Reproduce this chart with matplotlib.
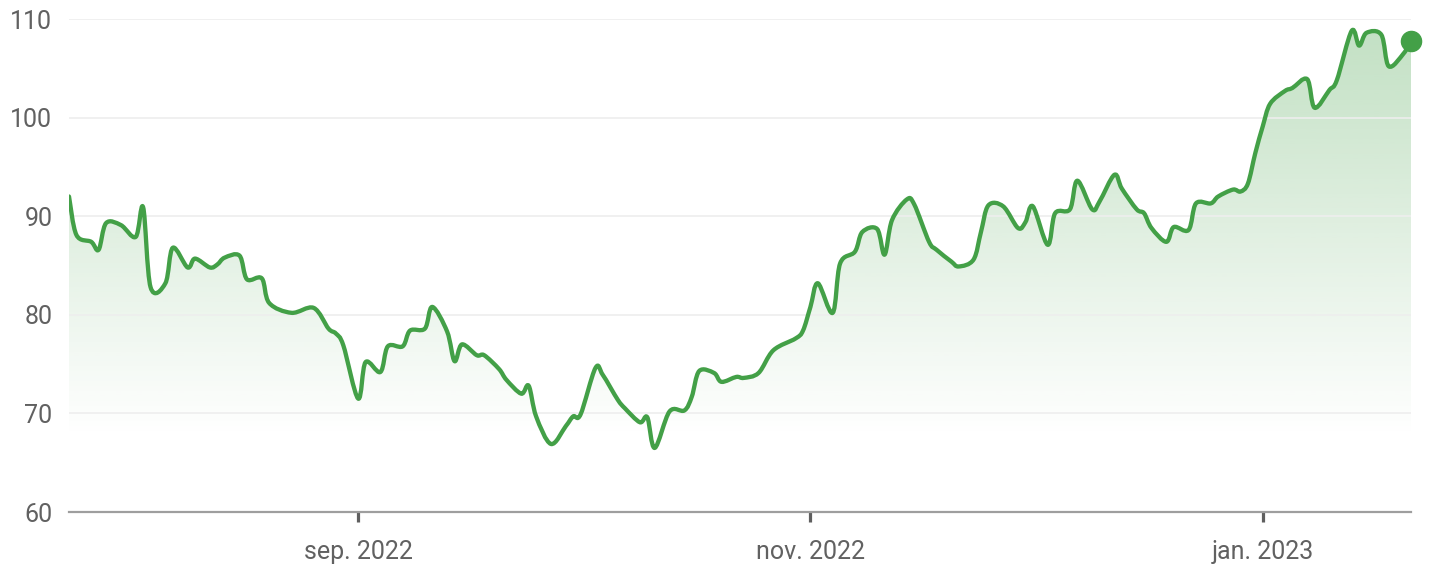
import numpy as np
import pandas as pd
import matplotlib
matplotlib.use("Agg")
import matplotlib.pyplot as plt
import matplotlib.dates as mdates
from matplotlib.colors import to_rgb
from matplotlib.path import Path
from matplotlib.patches import PathPatch

plt.rcParams['font.family'] = ['Roboto', 'DejaVu Sans']

# price series
dates = pd.to_datetime([
    "2022-07-24", "2022-07-25", "2022-07-27", "2022-07-28", "2022-07-29", "2022-07-31",
    "2022-08-02", "2022-08-03", "2022-08-04", "2022-08-06", "2022-08-07", "2022-08-09",
    "2022-08-10", "2022-08-12", "2022-08-13", "2022-08-14", "2022-08-16", "2022-08-17",
    "2022-08-19", "2022-08-20", "2022-08-23", "2022-08-26", "2022-08-28", "2022-08-29",
    "2022-08-30", "2022-09-01", "2022-09-02", "2022-09-04", "2022-09-05", "2022-09-07",
    "2022-09-08", "2022-09-10", "2022-09-11", "2022-09-13", "2022-09-14", "2022-09-15",
    "2022-09-17", "2022-09-18", "2022-09-20", "2022-09-21", "2022-09-23", "2022-09-24",
    "2022-09-25", "2022-09-27", "2022-09-29", "2022-09-30", "2022-10-01", "2022-10-03",
    "2022-10-04", "2022-10-06", "2022-10-07", "2022-10-09", "2022-10-10", "2022-10-11",
    "2022-10-13", "2022-10-15", "2022-10-16", "2022-10-17", "2022-10-19", "2022-10-20",
    "2022-10-22", "2022-10-23", "2022-10-25", "2022-10-27", "2022-10-30", "2022-10-31",
    "2022-11-01", "2022-11-02", "2022-11-04", "2022-11-05", "2022-11-07", "2022-11-08",
    "2022-11-10", "2022-11-11", "2022-11-12", "2022-11-14", "2022-11-15", "2022-11-17",
    "2022-11-18", "2022-11-20", "2022-11-21", "2022-11-23", "2022-11-24", "2022-11-25",
    "2022-11-27", "2022-11-29", "2022-11-30", "2022-12-01", "2022-12-03", "2022-12-04",
    "2022-12-06", "2022-12-07", "2022-12-09", "2022-12-10", "2022-12-12", "2022-12-13",
    "2022-12-15", "2022-12-16", "2022-12-17", "2022-12-19", "2022-12-20", "2022-12-22",
    "2022-12-23", "2022-12-25", "2022-12-26", "2022-12-28", "2022-12-29", "2022-12-30",
    "2022-12-31", "2023-01-01", "2023-01-02", "2023-01-04", "2023-01-05", "2023-01-07",
    "2023-01-08", "2023-01-10", "2023-01-11", "2023-01-13", "2023-01-14", "2023-01-15",
    "2023-01-17", "2023-01-18", "2023-01-20", "2023-01-21",
])
prices = [
    92.0, 88.1, 87.4, 86.6, 89.3, 89.1,
    87.9, 90.9, 82.8, 83.2, 86.8, 84.8,
    85.7, 84.8, 85.1, 85.8, 86.0, 83.6,
    83.7, 81.2, 80.2, 80.7, 78.6, 78.1,
    76.9, 71.5, 75.2, 74.2, 76.8, 76.8,
    78.4, 78.6, 80.8, 78.3, 75.3, 77.0,
    75.9, 75.9, 74.5, 73.4, 72.0, 72.8,
    69.7, 66.9, 68.7, 69.7, 69.9, 74.6,
    73.9, 71.4, 70.5, 69.1, 69.6, 66.5,
    70.2, 70.3, 71.7, 74.3, 74.1, 73.2,
    73.7, 73.6, 74.1, 76.4, 77.6, 78.4,
    80.8, 83.2, 80.2, 85.2, 86.4, 88.4,
    88.7, 86.1, 89.6, 91.7, 91.2, 87.4,
    86.6, 85.4, 84.9, 85.6, 88.4, 91.1,
    91.0, 88.8, 89.4, 91.0, 87.1, 90.3,
    90.7, 93.6, 90.7, 91.5, 94.2, 92.8,
    90.7, 90.3, 88.8, 87.4, 88.9, 88.6,
    91.3, 91.3, 92.0, 92.7, 92.5, 93.3,
    96.4, 99.1, 101.4, 102.7, 103.0, 103.9,
    101.0, 102.8, 103.8, 108.8, 107.3, 108.6,
    108.4, 105.2, 106.5, 107.8,
]
tick_dates = pd.to_datetime(["2022-09-01", "2022-11-01", "2023-01-01"])
tick_labels = ["sep. 2022", "nov. 2022", "jan. 2023"]
y_ticks = [60, 70, 80, 90, 100, 110]

green = "#43a047"


def smooth_path(xs, ys):
    # catmull-rom through the data points, written as cubic bezier segments
    pts = np.column_stack([xs, ys])
    ext = np.vstack([pts[0], pts, pts[-1]])
    verts = [pts[0]]
    codes = [Path.MOVETO]
    for i in range(len(pts) - 1):
        p0, p1, p2, p3 = ext[i], ext[i + 1], ext[i + 2], ext[i + 3]
        verts += [p1 + (p2 - p0) / 6, p2 - (p3 - p1) / 6, p2]
        codes += [Path.CURVE4] * 3
    return np.array(verts), codes


fig = plt.figure(figsize=(14.29, 5.72), dpi=100)
ax = fig.add_axes([69 / 1429, 60 / 572, 1342 / 1429, 493 / 572])

x = mdates.date2num(dates)
ax.set_xlim(x[0], x[-1])
ax.set_ylim(60, 110)

verts, codes = smooth_path(x, prices)
line_path = Path(verts, codes)

# area under the curve, used to clip the gradient
area_verts = np.vstack([verts, [[x[-1], 60], [x[0], 60], verts[0]]])
area_codes = codes + [Path.LINETO, Path.LINETO, Path.CLOSEPOLY]
area_path = Path(area_verts, area_codes)

levels = np.linspace(110, 60, 256)
grad = np.zeros((256, 1, 4))
grad[:, 0, :3] = to_rgb(green)
grad[:, 0, 3] = np.clip(0.33 - (110 - levels) * 0.0078, 0, 1)
img = ax.imshow(grad, extent=[x[0], x[-1], 60, 110], aspect="auto",
                origin="upper", zorder=1, interpolation="bilinear")
img.set_clip_path(area_path, transform=ax.transData)

ax.add_patch(PathPatch(line_path, facecolor="none", edgecolor=green, lw=3.1,
                       joinstyle="round", capstyle="round", zorder=3))
ax.plot(x[-1], prices[-1], "o", color=green, ms=14.5, clip_on=False, zorder=4)

ax.set_yticks(y_ticks)
ax.grid(axis="y", color="#eeeeee", lw=1.2, zorder=0)
ax.set_xticks(mdates.date2num(tick_dates))
ax.set_xticklabels(tick_labels)

for s in ["top", "right", "left"]:
    ax.spines[s].set_visible(False)
ax.spines["bottom"].set_color("#9e9e9e")
ax.spines["bottom"].set_linewidth(1.6)

ax.tick_params(axis="y", length=0, pad=12, labelsize=18, labelcolor="#616161")
ax.tick_params(axis="x", length=7.5, width=2.3, color="#5f5f5f", pad=12.5,
               labelsize=18, labelcolor="#616161")

fig.savefig("out.png", dpi=100)
